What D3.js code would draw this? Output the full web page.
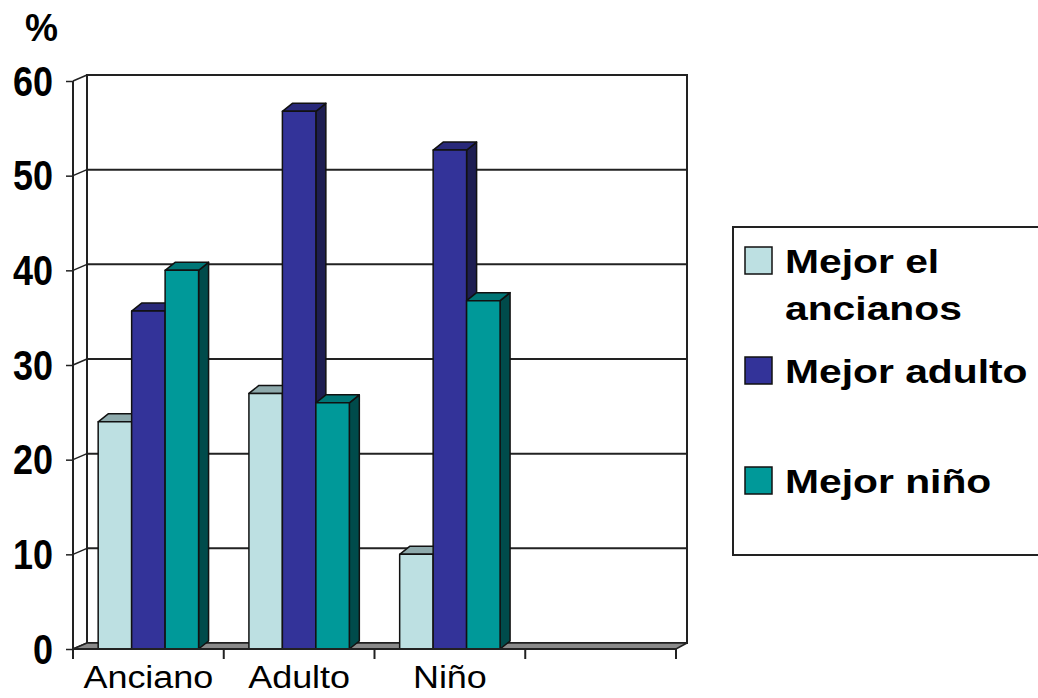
<!DOCTYPE html>
<html><head><meta charset="utf-8">
<script src="https://cdn.jsdelivr.net/npm/d3@7"></script>
<style>
html,body{margin:0;padding:0;background:#fff;}
svg{display:block;font-family:"Liberation Sans",Arial,sans-serif;}
</style></head>
<body>
<svg id="chart" width="1038" height="698"></svg>
<script>
const categories = ["Anciano", "Adulto", "Niño", ""];
const seriesNames = ["Mejor el ancianos", "Mejor adulto", "Mejor niño"];
const legendLines = [["Mejor el", "ancianos"], ["Mejor adulto"], ["Mejor niño"]];
const mejorAncianos = [24, 27, 10];
const mejorAdulto = [35.7, 56.8, 52.7];
const mejorNino = [40, 26, 36.8];
const yTicks = [0, 10, 20, 30, 40, 50, 60];
const yUnit = "%";

const colors = {
  front: ["#bde0e2", "#333399", "#009999"],
  top:   ["#8eaaac", "#29297a", "#007676"],
  side:  ["#6f8c8e", "#1e1e52", "#004b4b"]
};

const svg = d3.select("#chart");
const x0 = 73, x1 = 676, y0 = 649, yTop = 81;
const wallDx = 13, wallDy = -6;   // depth of walls
const barDx = 10, barDy = -8;     // depth of bars

const x = d3.scaleBand().domain(categories).range([x0, x1]).padding(0);
const xs = d3.scaleBand().domain(seriesNames).range([x.bandwidth()*0.167, x.bandwidth()*0.833]).padding(0);
const y = d3.scaleLinear().domain([0, 60]).range([y0, yTop]);

const values = [mejorAncianos, mejorAdulto, mejorNino];
const data = [];
categories.forEach((c, ci) => {
  seriesNames.forEach((s, si) => {
    if (values[si][ci] !== undefined) data.push({cat: c, series: s, si, v: values[si][ci]});
  });
});

// back wall
const wallL = x0 + wallDx + 1, wallR = x1 + 11, wallT = y(60) + wallDy, wallB = y0 + wallDy;
svg.append("rect").attr("x", wallL).attr("y", wallT).attr("width", wallR - wallL).attr("height", wallB - wallT)
  .attr("fill", "#fff").attr("stroke", "#222").attr("stroke-width", 2);

// gridlines on back wall + connectors on left wall
yTicks.forEach(t => {
  if (t > 0) {
    svg.append("line").attr("x1", wallL).attr("x2", wallR).attr("y1", y(t) + wallDy).attr("y2", y(t) + wallDy)
      .attr("stroke", "#222").attr("stroke-width", 2);
  }
  svg.append("line").attr("x1", x0).attr("x2", wallL).attr("y1", y(t)).attr("y2", y(t) + wallDy)
    .attr("stroke", "#222").attr("stroke-width", 1.5);
});

// floor
svg.append("polygon")
  .attr("points", [[x0, y0], [x1, y0], [wallR, wallB], [wallL, wallB]].map(p => p.join(",")).join(" "))
  .attr("fill", "#8a8a8a").attr("stroke", "#222").attr("stroke-width", 1.5);

// bars
const bars = svg.append("g");
data.forEach(d => {
  const bx = x(d.cat) + xs(d.series), bw = xs.bandwidth();
  const by = y(d.v), bb = y(0);
  const g = bars.append("g").attr("stroke", "#111").attr("stroke-width", 1.5).attr("stroke-linejoin", "round");
  g.append("polygon").attr("fill", colors.side[d.si])
    .attr("points", [[bx+bw, by], [bx+bw+barDx, by+barDy], [bx+bw+barDx, bb+barDy], [bx+bw, bb]].map(p=>p.join(",")).join(" "));
  g.append("polygon").attr("fill", colors.top[d.si])
    .attr("points", [[bx, by], [bx+barDx, by+barDy], [bx+bw+barDx, by+barDy], [bx+bw, by]].map(p=>p.join(",")).join(" "));
  g.append("rect").attr("x", bx).attr("y", by).attr("width", bw).attr("height", bb - by).attr("fill", colors.front[d.si]);
});

// y axis
const yAxis = d3.axisLeft(y).tickValues(yTicks).tickSize(7).tickPadding(13).tickFormat(d3.format("d"));
const ya = svg.append("g").attr("transform", `translate(${x0},0)`).call(yAxis);
ya.select(".domain").attr("stroke", "#222").attr("stroke-width", 2).attr("d", `M0,${y(60)}V${y0}`);
ya.selectAll(".tick line").attr("stroke", "#222").attr("stroke-width", 1.5);
ya.selectAll(".tick text").attr("font-size", 42).attr("font-weight", "bold").attr("fill", "#000")
  .attr("x", -20).attr("dy", "0.34em")
  .each(function(){ const n = d3.select(this).text().length; d3.select(this).attr("textLength", 20*n).attr("lengthAdjust", "spacingAndGlyphs"); });

// x axis
const xAxis = d3.axisBottom(x).tickSize(0).tickPadding(0);
const xa = svg.append("g").attr("transform", `translate(0,${y0})`).call(xAxis);
xa.select(".domain").attr("stroke", "#222").attr("stroke-width", 2).attr("d", `M${x0},0H${x1}`);
xa.selectAll(".tick text").attr("font-size", 31).attr("fill", "#000").attr("y", 39).attr("dy", 0)
  .each(function(){ const w = this.getComputedTextLength(); if (w > 0) d3.select(this).attr("textLength", w*1.16).attr("lengthAdjust", "spacingAndGlyphs"); });
// category boundary ticks
const bounds = categories.map(c => x(c)).concat([x1]);
xa.selectAll(".bound").data(bounds).enter().append("line").attr("class", "bound")
  .attr("x1", d => d).attr("x2", d => d).attr("y1", 0).attr("y2", 10).attr("stroke", "#222").attr("stroke-width", 2);

// unit label
svg.append("text").attr("x", 25).attr("y", 41).attr("font-size", 38).attr("font-weight", "bold").text(yUnit)
  .attr("textLength", 33).attr("lengthAdjust", "spacingAndGlyphs");

// legend
svg.append("rect").attr("x", 733).attr("y", 227).attr("width", 320).attr("height", 328)
  .attr("fill", "#fff").attr("stroke", "#222").attr("stroke-width", 2);
const legendY = [247, 357, 467];
seriesNames.forEach((s, i) => {
  svg.append("rect").attr("x", 745).attr("y", legendY[i]).attr("width", 27).attr("height", 27)
    .attr("fill", colors.front[i]).attr("stroke", "#111").attr("stroke-width", 1.5);
  legendLines[i].forEach((line, li) => {
    const t = svg.append("text").attr("x", 785).attr("y", legendY[i] + 26 + li*47)
      .attr("font-size", 34).attr("font-weight", "bold").attr("fill", "#000").text(line);
    const w = t.node().getComputedTextLength();
    t.attr("textLength", w*1.2).attr("lengthAdjust", "spacingAndGlyphs");
  });
});
</script>
</body></html>
